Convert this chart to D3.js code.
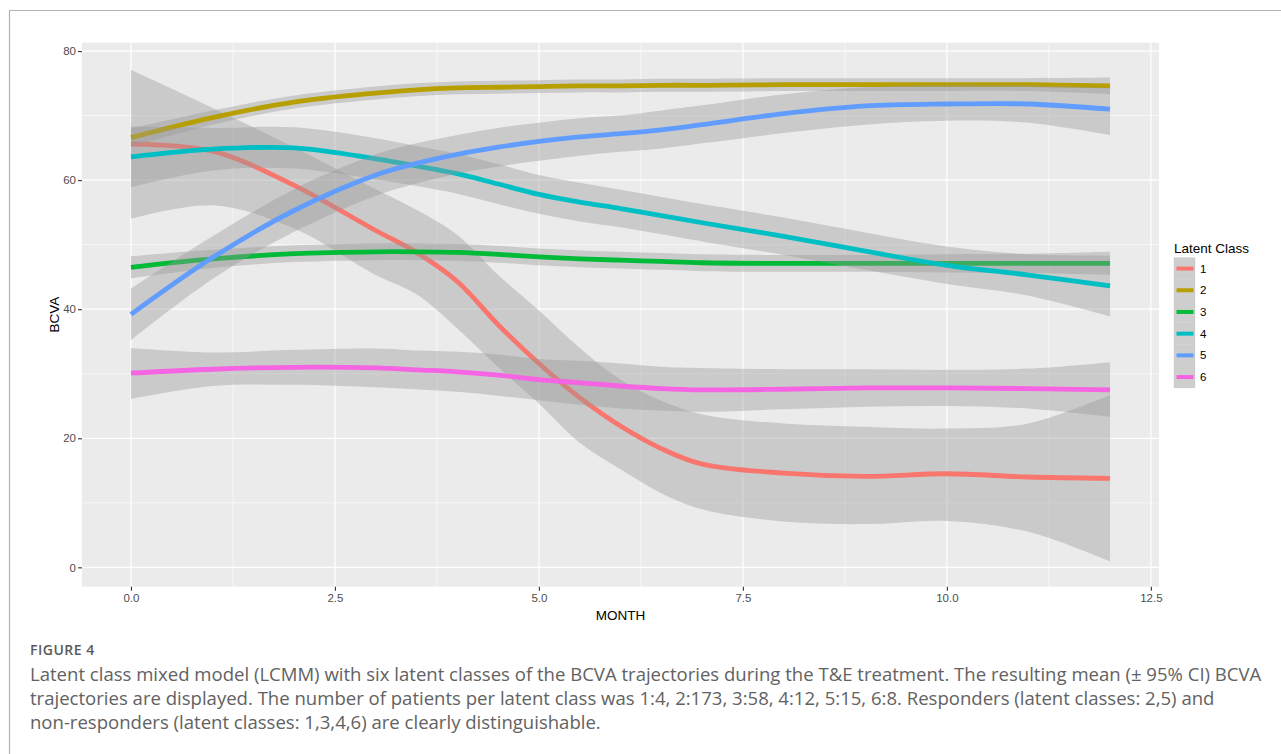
<!DOCTYPE html>
<html>
<head>
<meta charset="utf-8">
<script src="https://cdn.jsdelivr.net/npm/d3@7"></script>
<style>
  html, body { margin: 0; padding: 0; background: #ffffff; }
  svg { display: block; }
</style>
</head>
<body>
<svg id="chart" width="1281" height="754"></svg>
<script>
// ---------------- data ----------------
const months = [0, 1, 2, 3, 3.5, 4, 4.5, 5, 5.5, 6, 6.5, 7, 8, 9, 10, 11, 12];

const class1Mean  = [65.6, 64.5, 59.2, 52.2, 48.8, 44.3, 37.6, 31.6, 26.3, 21.9, 18.4, 16.0, 14.6, 14.1, 14.5, 14.0, 13.8];
const class1Upper = [77.1, 71.2, 65.1, 58.6, 55.4, 51.5, 45.3, 39.8, 34.0, 29.1, 25.8, 23.7, 22.3, 21.8, 21.5, 22.3, 26.7];
const class1Lower = [54.0, 56.1, 52.5, 45.3, 42.3, 37.0, 31.0, 25.4, 19.3, 15.2, 11.5, 9.0, 7.1, 6.7, 7.2, 5.5, 0.9];

const class2Mean  = [66.6, 69.7, 72.1, 73.5, 74.0, 74.3, 74.4, 74.5, 74.6, 74.6, 74.7, 74.7, 74.8, 74.8, 74.8, 74.8, 74.6];
const class2Upper = [68.0, 70.8, 73.1, 74.5, 75.0, 75.3, 75.4, 75.5, 75.6, 75.6, 75.7, 75.7, 75.8, 75.8, 75.8, 75.8, 75.9];
const class2Lower = [65.2, 68.6, 71.1, 72.5, 73.0, 73.3, 73.4, 73.5, 73.6, 73.6, 73.7, 73.7, 73.8, 73.8, 73.8, 73.8, 73.3];

const class3Mean  = [46.5, 47.8, 48.6, 48.9, 48.9, 48.8, 48.5, 48.1, 47.8, 47.6, 47.4, 47.2, 47.1, 47.1, 47.1, 47.1, 47.1];
const class3Upper = [48.2, 49.2, 49.9, 50.2, 50.2, 50.1, 49.8, 49.4, 49.1, 48.9, 48.7, 48.5, 48.4, 48.4, 48.5, 48.6, 48.9];
const class3Lower = [44.8, 46.4, 47.3, 47.6, 47.6, 47.5, 47.2, 46.8, 46.5, 46.3, 46.1, 45.9, 45.8, 45.8, 45.7, 45.6, 45.3];

const class4Mean  = [63.6, 64.8, 65.0, 63.3, 62.2, 61.0, 59.4, 57.8, 56.6, 55.6, 54.5, 53.4, 51.3, 49.0, 46.8, 45.3, 43.6];
const class4Upper = [68.3, 68.1, 68.2, 66.5, 65.3, 64.1, 62.5, 60.8, 59.6, 58.5, 57.4, 56.3, 54.2, 51.9, 49.7, 48.5, 48.3];
const class4Lower = [58.9, 61.5, 61.8, 60.1, 59.1, 57.9, 56.3, 54.8, 53.6, 52.7, 51.6, 50.5, 48.4, 46.1, 43.9, 42.1, 38.9];

const class5Mean  = [39.2, 48.0, 55.3, 60.8, 62.6, 64.0, 65.1, 66.0, 66.7, 67.2, 67.8, 68.6, 70.3, 71.5, 71.8, 71.8, 71.0];
const class5Upper = [43.2, 51.3, 58.6, 64.0, 65.7, 67.0, 68.1, 68.9, 69.6, 70.0, 70.8, 71.6, 73.3, 74.4, 74.8, 74.7, 74.3];
const class5Lower = [35.2, 44.7, 52.0, 57.6, 59.5, 61.0, 62.1, 63.0, 63.8, 64.4, 64.9, 65.7, 67.3, 68.6, 69.2, 68.9, 67.0];

const class6Mean  = [30.1, 30.7, 31.0, 30.9, 30.6, 30.3, 29.8, 29.1, 28.6, 28.1, 27.7, 27.5, 27.6, 27.8, 27.8, 27.7, 27.5];
const class6Upper = [34.0, 33.3, 33.7, 33.9, 33.6, 33.4, 33.0, 32.3, 32.0, 31.6, 31.1, 30.9, 30.7, 30.7, 30.6, 30.8, 31.8];
const class6Lower = [26.1, 28.1, 28.3, 27.9, 27.6, 27.2, 26.6, 25.9, 25.2, 24.6, 24.3, 24.1, 24.5, 24.9, 25.0, 24.6, 23.3];

const classLabels = ["1", "2", "3", "4", "5", "6"];
const classColors = ["#F8766D", "#B79F00", "#00BA38", "#00BFC4", "#619CFF", "#F564E3"];

const xTickValues = [0, 2.5, 5, 7.5, 10, 12.5];
const xMinorValues = [1.25, 3.75, 6.25, 8.75, 11.25];
const yTickValues = [0, 20, 40, 60, 80];
const yMinorValues = [10, 30, 50, 70];

const xTitle = "MONTH";
const yTitle = "BCVA";
const legendTitle = "Latent Class";
const figureLabel = "FIGURE 4";
const captionLines = [
  "Latent class mixed model (LCMM) with six latent classes of the BCVA trajectories during the T&E treatment. The resulting mean (\u00B1 95% CI) BCVA",
  "trajectories are displayed. The number of patients per latent class was 1:4, 2:173, 3:58, 4:12, 5:15, 6:8. Responders (latent classes: 2,5) and",
  "non-responders (latent classes: 1,3,4,6) are clearly distinguishable."
];

// ---------------- build ----------------
const seriesMeans  = [class1Mean, class2Mean, class3Mean, class4Mean, class5Mean, class6Mean];
const seriesUppers = [class1Upper, class2Upper, class3Upper, class4Upper, class5Upper, class6Upper];
const seriesLowers = [class1Lower, class2Lower, class3Lower, class4Lower, class5Lower, class6Lower];

const series = classLabels.map((lab, i) => ({
  label: lab,
  color: classColors[i],
  points: months.map((m, j) => ({ m, mean: seriesMeans[i][j], hi: seriesUppers[i][j], lo: seriesLowers[i][j] }))
}));

const svg = d3.select("#chart");
const W = 1281, H = 754;
svg.append("rect").attr("width", W).attr("height", H).attr("fill", "#ffffff");

// outer frame
svg.append("path")
  .attr("d", `M9.5,${H} L9.5,10.5 L${W},10.5`)
  .attr("fill", "none").attr("stroke", "#b3b3b3").attr("stroke-width", 1.2);

const panel = { left: 82, right: 1159, top: 42.7, bottom: 586.7 };

const x = d3.scaleLinear().domain([-0.6, 12.6]).range([panel.left, panel.right]);
const y = d3.scaleLinear().domain([-3.0, 81.3]).range([panel.bottom, panel.top]);

// panel background
svg.append("rect")
  .attr("x", panel.left).attr("y", panel.top)
  .attr("width", panel.right - panel.left).attr("height", panel.bottom - panel.top)
  .attr("fill", "#EBEBEB");

const grid = svg.append("g");
grid.selectAll("line.yminor").data(yMinorValues).enter().append("line")
  .attr("x1", panel.left).attr("x2", panel.right)
  .attr("y1", d => y(d)).attr("y2", d => y(d))
  .attr("stroke", "#ffffff").attr("stroke-width", 0.6);
grid.selectAll("line.xminor").data(xMinorValues).enter().append("line")
  .attr("y1", panel.top).attr("y2", panel.bottom)
  .attr("x1", d => x(d)).attr("x2", d => x(d))
  .attr("stroke", "#ffffff").attr("stroke-width", 0.6);
grid.selectAll("line.ymajor").data(yTickValues).enter().append("line")
  .attr("x1", panel.left).attr("x2", panel.right)
  .attr("y1", d => y(d)).attr("y2", d => y(d))
  .attr("stroke", "#ffffff").attr("stroke-width", 1.2);
grid.selectAll("line.xmajor").data(xTickValues).enter().append("line")
  .attr("y1", panel.top).attr("y2", panel.bottom)
  .attr("x1", d => x(d)).attr("x2", d => x(d))
  .attr("stroke", "#ffffff").attr("stroke-width", 1.2);

// ribbons + lines (per group: ribbon then line)
const curve = d3.curveCatmullRom.alpha(0.5);
const area = d3.area().x(d => x(d.m)).y0(d => y(d.lo)).y1(d => y(d.hi)).curve(curve);
const line = d3.line().x(d => x(d.m)).y(d => y(d.mean)).curve(curve);

const plot = svg.append("g");
series.forEach(s => {
  plot.append("path").attr("d", area(s.points))
    .attr("fill", "#999999").attr("fill-opacity", 0.4).attr("stroke", "none");
  plot.append("path").attr("d", line(s.points))
    .attr("fill", "none").attr("stroke", s.color).attr("stroke-width", 4.8)
    .attr("stroke-linejoin", "round");
});

// axes
const axisFont = "'Liberation Sans', Arial, sans-serif";
const xAxis = svg.append("g").attr("transform", `translate(0,${panel.bottom})`)
  .call(d3.axisBottom(x).tickValues(xTickValues).tickFormat(d3.format(".1f")).tickSize(4).tickPadding(3));
const yAxis = svg.append("g").attr("transform", `translate(${panel.left},0)`)
  .call(d3.axisLeft(y).tickValues(yTickValues).tickFormat(d3.format("d")).tickSize(4).tickPadding(2));
[xAxis, yAxis].forEach(a => {
  a.select(".domain").remove();
  a.selectAll(".tick line").attr("stroke", "#333333").attr("stroke-width", 1.1);
  a.selectAll(".tick text").attr("fill", "#4D4D4D").style("font-family", axisFont).style("font-size", "11.5px");
});

// axis titles
svg.append("text").text(xTitle)
  .attr("x", (panel.left + panel.right) / 2).attr("y", 620)
  .attr("text-anchor", "middle").attr("fill", "#000")
  .style("font-family", axisFont).style("font-size", "13.5px");
svg.append("text").text(yTitle)
  .attr("transform", `translate(59,${(panel.top + panel.bottom) / 2}) rotate(-90)`)
  .attr("text-anchor", "middle").attr("fill", "#000")
  .style("font-family", axisFont).style("font-size", "13.5px");

// legend
const legend = svg.append("g").attr("transform", "translate(1174,0)");
legend.append("text").text(legendTitle)
  .attr("x", 0).attr("y", 252.5).attr("fill", "#000")
  .style("font-family", axisFont).style("font-size", "13.5px");
const keyTop = 257.7, keyH = 21.7, keyW = 21;
series.forEach((s, i) => {
  const ky = keyTop + i * keyH;
  legend.append("rect").attr("x", 0).attr("y", ky).attr("width", keyW).attr("height", keyH)
    .attr("fill", "#F2F2F2").attr("stroke", "#e2e2e2").attr("stroke-width", 0.6);
  legend.append("rect").attr("x", 0).attr("y", ky).attr("width", keyW).attr("height", keyH)
    .attr("fill", "#999999").attr("fill-opacity", 0.4);
  legend.append("line").attr("x1", 2.5).attr("x2", keyW - 1.5)
    .attr("y1", ky + keyH / 2).attr("y2", ky + keyH / 2)
    .attr("stroke", s.color).attr("stroke-width", 4);
  legend.append("text").text(s.label)
    .attr("x", keyW + 5).attr("y", ky + keyH / 2).attr("dy", "0.36em")
    .attr("fill", "#000").style("font-family", axisFont).style("font-size", "11.5px");
});

// caption
const capFont = "'Open Sans', 'Noto Sans', sans-serif";
const fig = svg.append("text").text(figureLabel)
  .attr("x", 30).attr("y", 655).attr("fill", "#5a5a5a")
  .style("font-family", capFont).style("font-weight", 600).style("font-size", "14px");
const figW = fig.node().getComputedTextLength();
const figLs = Math.max(-0.5, Math.min(0.5, (73 - figW) / (figureLabel.length - 1)));
fig.style("letter-spacing", figLs.toFixed(3) + "px");

const capBaselines = [681, 705, 729];
const capTexts = captionLines.map((t, i) => svg.append("text").text(t)
  .attr("x", 30).attr("y", capBaselines[i]).attr("fill", "#626262")
  .style("font-family", capFont).style("font-weight", 400).style("font-size", "16px"));
const w0 = capTexts[0].node().getComputedTextLength();
const capSize = 16 * 1232 / w0;
capTexts.forEach(t => t.style("font-size", capSize.toFixed(2) + "px"));
</script>
</body>
</html>
